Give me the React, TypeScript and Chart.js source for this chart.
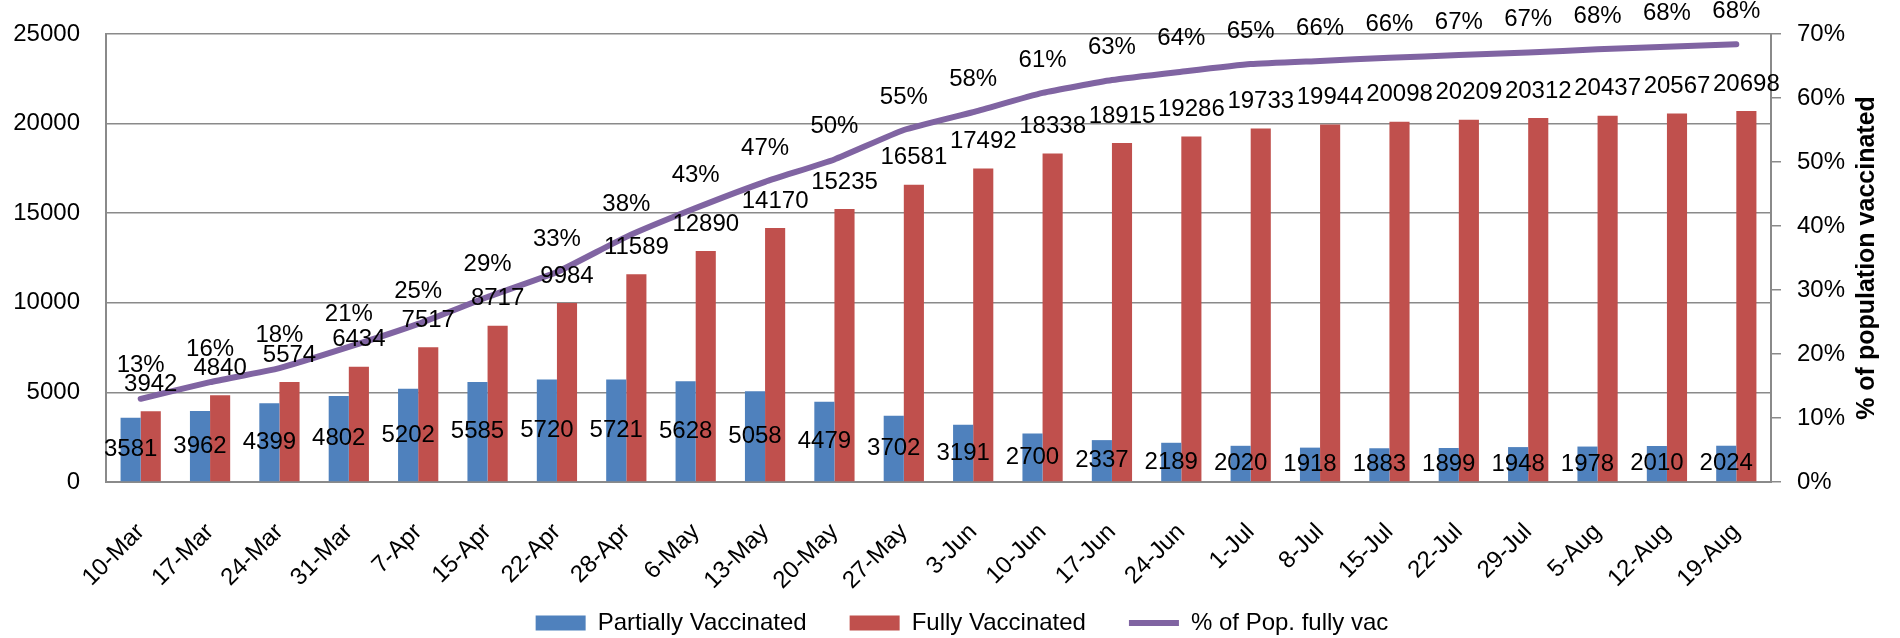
import React, { useEffect, useRef } from "react";
import { Chart, registerables } from "chart.js";

Chart.register(...registerables);

const categories = [
  "10-Mar", "17-Mar", "24-Mar", "31-Mar", "7-Apr", "15-Apr", "22-Apr", "28-Apr",
  "6-May", "13-May", "20-May", "27-May", "3-Jun", "10-Jun", "17-Jun", "24-Jun",
  "1-Jul", "8-Jul", "15-Jul", "22-Jul", "29-Jul", "5-Aug", "12-Aug", "19-Aug",
];

const partiallyVaccinated = [
  3581, 3962, 4399, 4802, 5202, 5585, 5720, 5721, 5628, 5058, 4479, 3702,
  3191, 2700, 2337, 2189, 2020, 1918, 1883, 1899, 1948, 1978, 2010, 2024,
];

const fullyVaccinated = [
  3942, 4840, 5574, 6434, 7517, 8717, 9984, 11589, 12890, 14170, 15235, 16581,
  17492, 18338, 18915, 19286, 19733, 19944, 20098, 20209, 20312, 20437, 20567, 20698,
];

// % of population fully vaccinated (estimated from the line; labels show rounded values)
const pctFullyVac = [
  13.0, 15.6, 17.8, 21.1, 24.7, 28.9, 32.8, 38.3, 42.8, 46.9, 50.4, 55.0,
  57.8, 60.8, 62.8, 64.1, 65.3, 65.8, 66.3, 66.7, 67.1, 67.6, 68.0, 68.4,
];

const seriesNames = ["Partially Vaccinated", "Fully Vaccinated", "% of Pop. fully vac"];
const rightAxisTitle = "% of population vaccinated";

const BLUE = "#4F81BD";
const RED = "#C0504D";
const PURPLE = "#8064A2";
const GRID = "#8a8a8a";
const FONT = "'Liberation Sans', Arial, sans-serif";

const labelsPlugin = {
  id: "valueLabels",
  afterLayout(chart: any) {
    // lift the legend row so it sits just under the rotated date labels
    const lg = chart.legend;
    if (lg) {
      lg.top -= 24;
      lg.bottom -= 24;
      lg.left += 12;
      lg.right += 12;
    }
  },
  afterDatasetsDraw(chart: any) {
    const ctx = chart.ctx;
    ctx.save();
    ctx.font = `24px ${FONT}`;
    ctx.fillStyle = "#000";
    ctx.textAlign = "center";
    ctx.textBaseline = "middle";
    chart.data.datasets.forEach((ds: any, di: number) => {
      const meta = chart.getDatasetMeta(di);
      meta.data.forEach((el: any, i: number) => {
        const v = ds.data[i];
        if (di === 0) {
          ctx.fillText(String(v), el.x, (el.y + el.base) / 2);
        } else if (di === 1) {
          ctx.fillText(String(v), el.x, el.y - 27);
        } else {
          ctx.fillText(Math.round(v) + "%", el.x, el.y - 33);
        }
      });
    });
    ctx.restore();
  },
  afterDraw(chart: any) {
    const ctx = chart.ctx;
    const area = chart.chartArea;
    ctx.save();
    ctx.font = `bold 25px ${FONT}`;
    ctx.fillStyle = "#000";
    ctx.textAlign = "center";
    ctx.textBaseline = "middle";
    ctx.translate(1867, (area.top + area.bottom) / 2);
    ctx.rotate(-Math.PI / 2);
    ctx.fillText(rightAxisTitle, 0, 0);
    ctx.restore();
  },
};

export default function App() {
  const ref = useRef<HTMLCanvasElement | null>(null);
  useEffect(() => {
    if (!ref.current) return;
    const chart = new Chart(ref.current, {
      type: "bar",
      data: {
        labels: categories,
        datasets: [
          {
            label: seriesNames[0],
            data: partiallyVaccinated,
            backgroundColor: BLUE,
            borderWidth: 0,
            yAxisID: "y",
            order: 1,
            pointStyle: "rect",
          } as any,
          {
            label: seriesNames[1],
            data: fullyVaccinated,
            backgroundColor: RED,
            borderWidth: 0,
            yAxisID: "y",
            order: 1,
            pointStyle: "rect",
          } as any,
          {
            type: "line",
            label: seriesNames[2],
            data: pctFullyVac,
            borderColor: PURPLE,
            backgroundColor: PURPLE,
            borderWidth: 6,
            pointRadius: 0,
            pointStyle: "line",
            tension: 0.15,
            yAxisID: "y1",
            order: 0,
            borderCapStyle: "round",
            borderJoinStyle: "round",
          } as any,
        ],
      },
      options: {
        animation: false,
        responsive: true,
        maintainAspectRatio: false,
        layout: { padding: { left: 0, right: 0, top: 34, bottom: -31 } },
        datasets: {
          bar: { categoryPercentage: 0.58, barPercentage: 1.0 },
        } as any,
        plugins: {
          tooltip: { enabled: false },
          title: { display: false },
          legend: {
            display: true,
            position: "bottom",
            labels: {
              usePointStyle: true,
              pointStyleWidth: 50,
              boxHeight: 15,
              padding: 43,
              color: "#000",
              font: { family: FONT, size: 24 },
              sort: (a: any, b: any) => a.datasetIndex - b.datasetIndex,
            },
          },
        },
        scales: {
          x: {
            offset: true,
            grid: { display: false, drawTicks: false },
            border: { display: true, color: GRID, width: 2 },
            ticks: {
              color: "#000",
              font: { family: FONT, size: 24 },
              minRotation: 45,
              maxRotation: 45,
              autoSkip: false,
              padding: 36,
            },
            afterFit: (s: any) => {
              s.height = 110;
            },
          },
          y: {
            position: "left",
            min: 0,
            max: 25000,
            ticks: {
              stepSize: 5000,
              color: "#000",
              font: { family: FONT, size: 24 },
              padding: 6,
              callback: (v: any) => String(v),
            },
            grid: {
              color: GRID,
              lineWidth: 1.5,
              drawTicks: true,
              tickLength: 20,
              tickColor: "rgba(0,0,0,0)",
            },
            border: { display: true, color: GRID, width: 2 },
            afterFit: (s: any) => {
              s.width = 106;
            },
          },
          y1: {
            position: "right",
            min: 0,
            max: 70,
            ticks: {
              stepSize: 10,
              color: "#000",
              font: { family: FONT, size: 24 },
              padding: 16,
              callback: (v: any) => v + "%",
            },
            grid: { drawOnChartArea: false, drawTicks: true, tickLength: 10, color: GRID, lineWidth: 1.5 },
            border: { display: true, color: GRID, width: 2 },
            afterFit: (s: any) => {
              s.width = 129;
            },
          },
        },
      } as any,
      plugins: [labelsPlugin],
    });
    return () => chart.destroy();
  }, []);

  return (
    <div style={{ position: "absolute", left: 0, top: 0, width: 1900, height: 638 }}>
      <canvas ref={ref} />
    </div>
  );
}
